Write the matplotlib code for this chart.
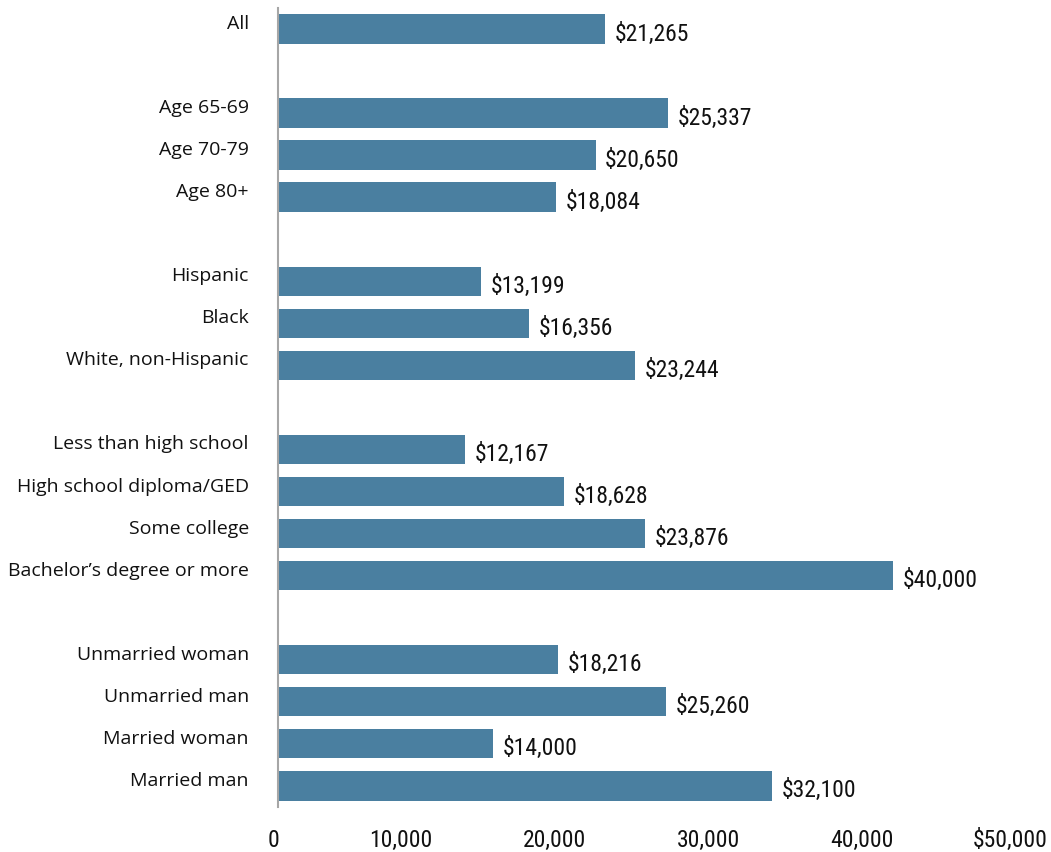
import numpy as np
import matplotlib as mpl
mpl.use('Agg')
import matplotlib.pyplot as plt
from matplotlib import font_manager
from matplotlib.transforms import ScaledTranslation

categories = ['All',
              'Age 65-69', 'Age 70-79', 'Age 80+',
              'Hispanic', 'Black', 'White, non-Hispanic',
              'Less than high school', 'High school diploma/GED', 'Some college',
              'Bachelor\u2019s degree or more',
              'Unmarried woman', 'Unmarried man', 'Married woman', 'Married man']
values = [21265,
          25337, 20650, 18084,
          13199, 16356, 23244,
          12167, 18628, 23876, 40000,
          18216, 25260, 14000, 32100]
# rows with blank gaps between groups
positions = [0, 2, 3, 4, 6, 7, 8, 10, 11, 12, 13, 15, 16, 17, 18]
tick_values = [0, 10000, 20000, 30000, 40000, 50000]
tick_labels = ['0', '10,000', '20,000', '30,000', '40,000', '$50,000']

# look for a condensed face for the numbers, else a narrow-ish regular one
fonts = font_manager.fontManager.ttflist
narrow = None
for want in ['Liberation Sans Narrow', 'Roboto Condensed', 'Open Sans Condensed']:
    if any(f.name == want for f in fonts):
        narrow = dict(family=want, size=17)
        break
if narrow is None:
    cond = [f for f in fonts if f.name == 'DejaVu Sans' and 'condensed' in str(f.stretch)
            and f.weight in (400, 'normal', 'regular')]
    if cond:
        narrow = dict(family='DejaVu Sans', stretch='condensed', size=15)
    else:
        narrow = dict(family='Lato', size=15.5)
num_font = font_manager.FontProperties(**narrow)
regular = 'Open Sans'

bar_color = '#4a7fa0'

fig = plt.figure(figsize=(10.51, 8.52), dpi=100)
ax = fig.add_axes([0.2645, 0.053, 0.7315, 0.9376])

ax.barh(positions, values, height=0.7, color=bar_color)
ax.set_xlim(0, 50000)
ax.set_ylim(18.5, -0.5)

for p, v in zip(positions, values):
    ax.annotate('${:,}'.format(v), (v, p), xytext=(7, -3.6), textcoords='offset points',
                ha='left', va='center', fontproperties=num_font, color='#111111')

ax.set_yticks(positions)
ax.set_yticklabels(categories, fontsize=14, family=regular, color='#111111')
ax.tick_params(axis='y', length=0, pad=21)
for lab in ax.get_yticklabels():
    lab.set_transform(lab.get_transform() + ScaledTranslation(0, 0.07, fig.dpi_scale_trans))

ax.set_xticks(tick_values)
ax.set_xticklabels(tick_labels, fontproperties=num_font, color='#111111', ha='right')
ax.tick_params(axis='x', length=0, pad=16)
for lab in ax.get_xticklabels():
    lab.set_transform(lab.get_transform() + ScaledTranslation(0.01, 0, fig.dpi_scale_trans))

for s in ['top', 'right', 'bottom']:
    ax.spines[s].set_visible(False)
ax.spines['left'].set_color('#a6a6a6')
ax.spines['left'].set_linewidth(1.5)

fig.savefig('out.png', dpi=100)
